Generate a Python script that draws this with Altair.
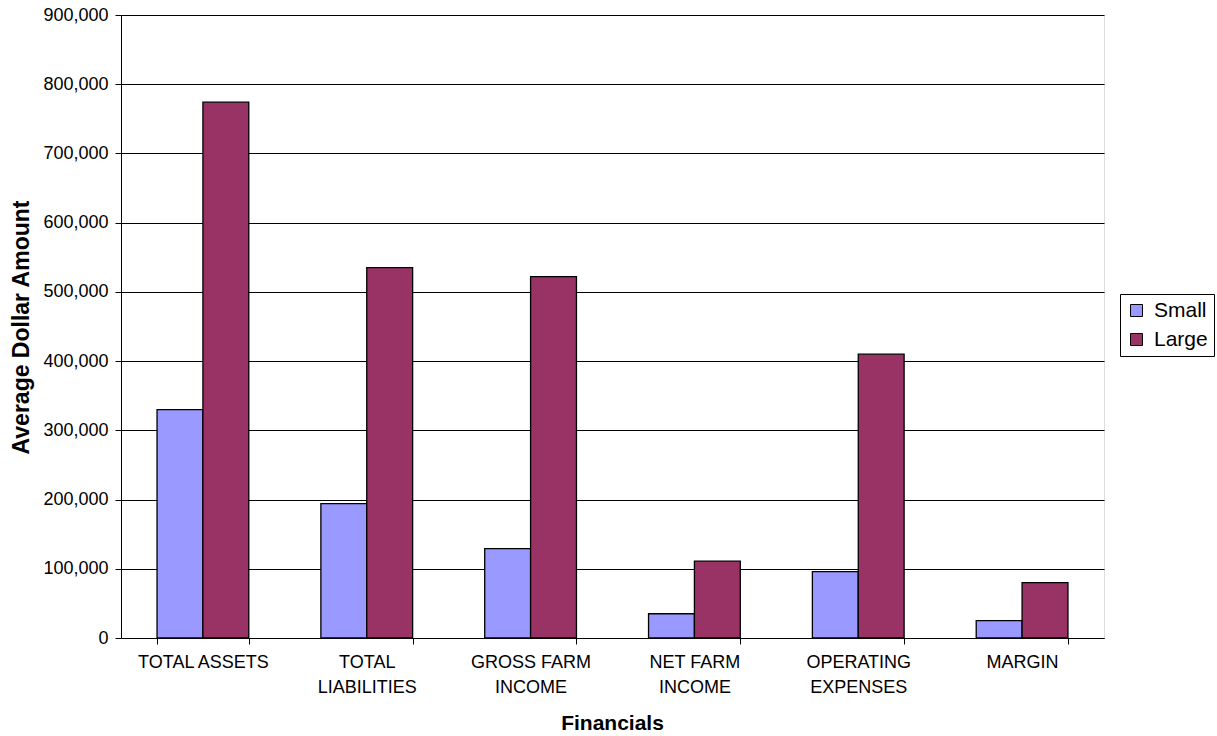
import altair as alt
import pandas as pd

categories = ["TOTAL ASSETS", "TOTAL LIABILITIES", "GROSS FARM INCOME",
              "NET FARM INCOME", "OPERATING EXPENSES", "MARGIN"]
small_values = [330000, 194000, 129000, 35000, 96000, 25000]
large_values = [774000, 535000, 522000, 111000, 410000, 80000]
series = ["Small", "Large"]
colors = ["#9999FF", "#993366"]
y_ticks = [0, 100000, 200000, 300000, 400000, 500000, 600000, 700000, 800000, 900000]
label_lines = {
    "TOTAL ASSETS": ["TOTAL ASSETS"],
    "TOTAL LIABILITIES": ["TOTAL", "LIABILITIES"],
    "GROSS FARM INCOME": ["GROSS FARM", "INCOME"],
    "NET FARM INCOME": ["NET FARM", "INCOME"],
    "OPERATING EXPENSES": ["OPERATING", "EXPENSES"],
    "MARGIN": ["MARGIN"],
}

rows = []
for c, s, l in zip(categories, small_values, large_values):
    rows.append({"Category": c, "Series": "Small", "Value": s})
    rows.append({"Category": c, "Series": "Large", "Value": l})
df = pd.DataFrame(rows)

expr_parts = []
for k, v in label_lines.items():
    arr = "[" + ",".join("'" + t + "'" for t in v) + "]"
    expr_parts.append(f"datum.label == '{k}' ? {arr} : ")
label_expr = "".join(expr_parts) + "datum.label"

FONT = "Liberation Sans"

chart = alt.Chart(df).mark_bar(stroke="black", strokeWidth=1.3).encode(
    x=alt.X("Category:N", sort=categories,
            scale=alt.Scale(paddingInner=0.44, paddingOuter=0.22),
            axis=alt.Axis(title="Financials", labelAngle=0, tickBand="extent",
                          labelExpr=label_expr, labelFont=FONT, labelFontSize=18,
                          labelColor="black", labelPadding=9, labelLineHeight=25,
                          tickColor="black", tickSize=6, domainColor="black",
                          titleFont=FONT, titleFontSize=21, titleFontWeight="bold",
                          titleColor="black", titleX=491, titleY=85,
                          titleBaseline="middle", grid=False)),
    xOffset=alt.XOffset("Series:N", sort=series,
                        scale=alt.Scale(paddingInner=0, paddingOuter=0)),
    y=alt.Y("Value:Q",
            scale=alt.Scale(domain=[0, 900000], nice=False),
            axis=alt.Axis(title="Average Dollar Amount", values=y_ticks, format=",d",
                          labelFont=FONT, labelFontSize=18, labelColor="black",
                          labelPadding=7, tickColor="black", tickSize=6,
                          domainColor="black", gridColor="black", gridWidth=1,
                          titleFont=FONT, titleFontSize=23, titleFontWeight="bold",
                          titleColor="black", titleX=-100, titleY=312,
                          titleAlign="center", titleBaseline="middle", titleAngle=-90)),
    color=alt.Color("Series:N", sort=series,
                    scale=alt.Scale(domain=series, range=colors),
                    legend=alt.Legend(title=None, orient="none", legendX=999, legendY=279,
                                      strokeColor="black", padding=6,
                                      symbolType="square", symbolSize=144,
                                      symbolStrokeColor="black", symbolStrokeWidth=1,
                                      symbolOpacity=1,
                                      labelFont=FONT, labelFontSize=21, labelColor="black",
                                      rowPadding=7, labelOffset=7)),
).properties(
    width=983,
    height=623,
    autosize=alt.AutoSizeParams(type="none"),
    padding={"left": 121, "top": 15, "right": 113, "bottom": 98},
).configure_view(stroke="#808080", strokeWidth=1.5).configure(background="white")

chart.save("out.html", embed_options={"renderer": "svg", "actions": False})
